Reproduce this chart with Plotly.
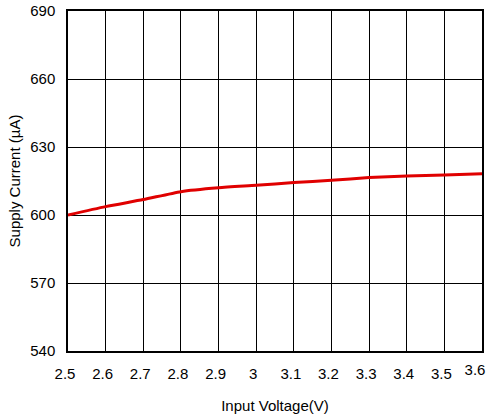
import plotly.graph_objects as go

voltage = [2.5, 2.6, 2.7, 2.8, 2.9, 3.0, 3.1, 3.2, 3.3, 3.4, 3.5, 3.6]
current = [600.0, 603.7, 606.8, 610.3, 612.0, 613.1, 614.3, 615.3, 616.5, 617.2, 617.6, 618.2]
x_ticks = [2.5, 2.6, 2.7, 2.8, 2.9, 3.0, 3.1, 3.2, 3.3, 3.4, 3.5, 3.6]
x_labels = ["2.5", "2.6", "2.7", "2.8", "2.9", "3", "3.1", "3.2", "3.3", "3.4", "3.5", "3.6"]
y_ticks = [540, 570, 600, 630, 660, 690]

fig = go.Figure()
fig.add_trace(go.Scatter(x=voltage, y=current, mode="lines",
                         line=dict(color="#e00000", width=3, shape="spline", smoothing=0.6),
                         showlegend=False, hoverinfo="skip", cliponaxis=False))
# invisible trace anchoring the overlay axis that carries the last (edge) tick label
fig.add_trace(go.Scatter(x=voltage, y=current, mode="lines", xaxis="x2",
                         line=dict(color="rgba(0,0,0,0)", width=0),
                         showlegend=False, hoverinfo="skip"))

font = dict(family="Liberation Sans, Arial, sans-serif", size=15, color="black")
fig.update_layout(
    width=487, height=420,
    margin=dict(l=68, r=5, t=11, b=69),
    paper_bgcolor="white", plot_bgcolor="white",
    font=font,
    xaxis=dict(range=[2.5, 3.6], tickvals=x_ticks[:-1], ticktext=x_labels[:-1],
               showgrid=True, gridcolor="black", gridwidth=1,
               showline=True, linecolor="black", linewidth=1.5, mirror=True,
               zeroline=False, ticks="", ticklen=0, automargin=False,
               ticklabeloverflow="allow", ticklabelstandoff=8, ticklabelshift=-3,
               title=dict(text="Input Voltage(V)", font=font, standoff=20)),
    xaxis2=dict(range=[2.5, 3.6], overlaying="x", side="bottom", anchor="y",
                tickvals=x_ticks[-1:], ticktext=x_labels[-1:],
                showgrid=False, showline=False, zeroline=False, ticks="", ticklen=0,
                automargin=False, ticklabeloverflow="allow", ticklabelstandoff=8,
                ticklabelshift=-7, tickfont=font),
    yaxis=dict(range=[540, 690], tickvals=y_ticks,
               showgrid=True, gridcolor="black", gridwidth=1,
               showline=True, linecolor="black", linewidth=1.5, mirror=True,
               zeroline=False, ticks="", ticklen=0, automargin=False,
               ticklabeloverflow="allow", ticklabelstandoff=8,
               title=dict(text="Supply Current (µA)", font=font, standoff=6)),
)
fig.write_html("out.html", config={"displayModeBar": False},
               post_script="document.body.style.margin='0';document.body.style.overflow='hidden';")
